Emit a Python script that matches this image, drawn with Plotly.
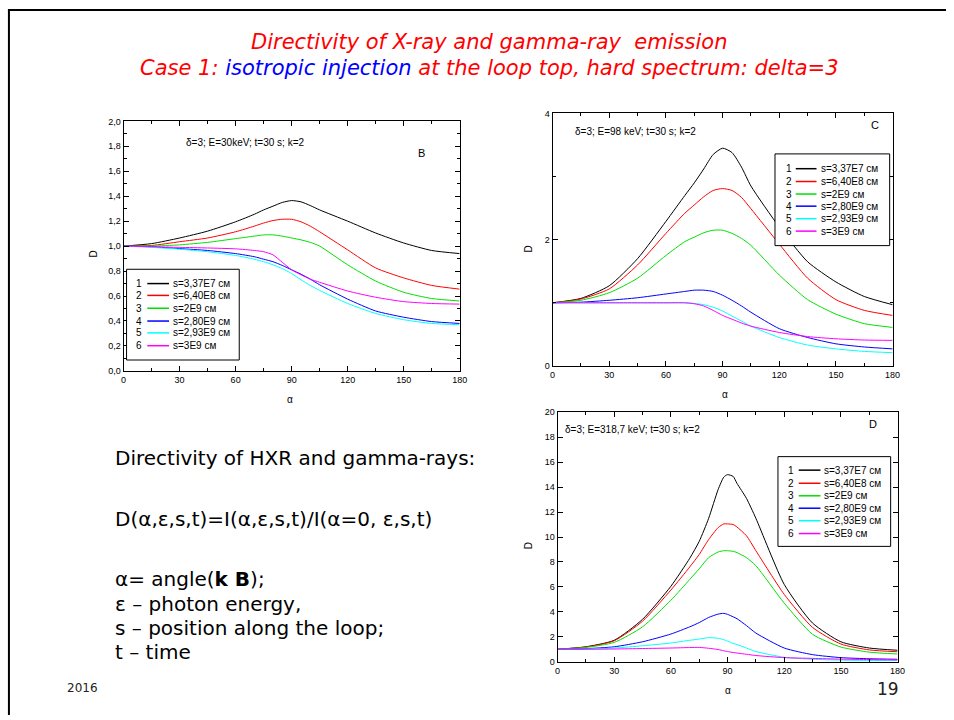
import plotly.graph_objects as go

W, H = 954, 720

# ---------------- data ----------------
alpha_BC = [0, 15, 30, 45, 60, 70, 75, 80, 85, 90, 95, 100, 105, 120, 135, 150, 165, 180]
alpha_D = [0, 15, 30, 45, 60, 70, 75, 80, 85, 88, 90, 93, 95, 100, 105, 120, 135, 150, 165, 180]

series_numbers = ["1", "2", "3", "4", "5", "6"]
series_labels = ["s=3,37E7 см", "s=6,40E8 см", "s=2E9 см", "s=2,80E9 см", "s=2,93E9 см", "s=3E9 см"]
series_colors = ["#000000", "#ff0000", "#00e000", "#0000ff", "#00ffff", "#ff00ff"]

# Panel B: E = 30 keV
B1 = [1.0, 1.02, 1.065, 1.12, 1.195, 1.255, 1.29, 1.32, 1.35, 1.365, 1.355, 1.325, 1.29, 1.2, 1.105, 1.025, 0.965, 0.94]
B2 = [1.0, 1.005, 1.035, 1.065, 1.115, 1.16, 1.185, 1.205, 1.215, 1.215, 1.195, 1.16, 1.115, 0.97, 0.825, 0.745, 0.685, 0.655]
B3 = [1.0, 1.0, 1.01, 1.03, 1.06, 1.08, 1.09, 1.09, 1.08, 1.065, 1.05, 1.03, 1.0, 0.85, 0.72, 0.63, 0.58, 0.56]
B4 = [1.0, 0.995, 0.98, 0.965, 0.94, 0.915, 0.895, 0.875, 0.845, 0.81, 0.775, 0.735, 0.69, 0.575, 0.48, 0.43, 0.395, 0.38]
B5 = [1.0, 0.99, 0.975, 0.955, 0.925, 0.895, 0.875, 0.85, 0.82, 0.78, 0.73, 0.685, 0.645, 0.54, 0.46, 0.41, 0.38, 0.37]
B6 = [1.0, 0.995, 0.99, 0.985, 0.978, 0.965, 0.955, 0.93, 0.87, 0.81, 0.77, 0.735, 0.71, 0.64, 0.59, 0.555, 0.54, 0.535]

# Panel C: E = 98 keV
C1 = [1.0, 1.07, 1.27, 1.7, 2.29, 2.7, 2.9, 3.12, 3.35, 3.45, 3.38, 3.15, 2.85, 2.2, 1.65, 1.33, 1.1, 0.97]
C2 = [1.0, 1.06, 1.22, 1.6, 2.1, 2.42, 2.55, 2.68, 2.78, 2.81, 2.78, 2.67, 2.49, 1.93, 1.39, 1.05, 0.88, 0.8]
C3 = [1.0, 1.04, 1.16, 1.39, 1.75, 1.97, 2.04, 2.11, 2.15, 2.15, 2.1, 2.02, 1.91, 1.44, 1.05, 0.82, 0.67, 0.61]
C4 = [1.0, 1.01, 1.04, 1.08, 1.14, 1.18, 1.2, 1.2, 1.18, 1.12, 1.04, 0.95, 0.85, 0.59, 0.45, 0.35, 0.3, 0.27]
C5 = [1.0, 1.0, 1.0, 1.0, 1.0, 1.0, 0.99, 0.97, 0.93, 0.87, 0.79, 0.71, 0.63, 0.45, 0.33, 0.27, 0.23, 0.21]
C6 = [1.0, 1.0, 1.0, 1.0, 1.0, 1.0, 0.985, 0.95, 0.88, 0.8, 0.74, 0.68, 0.63, 0.53, 0.465, 0.43, 0.41, 0.405]

# Panel D: E = 318.7 keV
D1 = [1.0, 1.2, 1.72, 3.4, 6.05, 8.3, 9.65, 11.5, 13.8, 14.8, 15.0, 14.85, 14.3, 13.1, 11.5, 6.2, 3.1, 1.6, 1.1, 0.92]
D2 = [1.0, 1.18, 1.68, 3.25, 5.75, 7.6, 8.6, 9.8, 10.75, 11.05, 11.05, 11.0, 10.8, 10.1, 8.9, 5.4, 2.75, 1.42, 0.95, 0.8]
D3 = [1.0, 1.15, 1.55, 2.8, 4.93, 6.6, 7.45, 8.35, 8.8, 8.9, 8.9, 8.85, 8.75, 8.35, 7.7, 4.7, 2.2, 1.18, 0.77, 0.62]
D4 = [1.0, 1.05, 1.2, 1.6, 2.22, 2.8, 3.14, 3.55, 3.82, 3.88, 3.8, 3.6, 3.45, 2.9, 2.3, 1.1, 0.57, 0.33, 0.24, 0.2]
D5 = [1.0, 1.02, 1.1, 1.28, 1.5, 1.72, 1.82, 1.93, 1.88, 1.77, 1.65, 1.47, 1.38, 1.1, 0.82, 0.36, 0.2, 0.13, 0.1, 0.1]
D6 = [1.0, 1.0, 1.02, 1.06, 1.1, 1.14, 1.15, 1.08, 0.98, 0.88, 0.82, 0.74, 0.7, 0.6, 0.5, 0.33, 0.27, 0.21, 0.18, 0.15]

panel_B = [B1, B2, B3, B4, B5, B6]
panel_C = [C1, C2, C3, C4, C5, C6]
panel_D = [D1, D2, D3, D4, D5, D6]

x_ticks = [0, 30, 60, 90, 120, 150, 180]

# ---------------- helpers ----------------
def px(x):
    return x / W

def py(y):
    return 1 - y / H

FONT = "Arial, Liberation Sans, sans-serif"
SLIDE_FONT = "DejaVu Sans, Verdana, sans-serif"

fig = go.Figure()

panels = [
    ("x", "y", alpha_BC, panel_B),
    ("x2", "y2", alpha_BC, panel_C),
    ("x3", "y3", alpha_D, panel_D),
]
for xa, ya, alpha, vals in panels:
    for i, v in enumerate(vals):
        fig.add_trace(go.Scatter(
            x=alpha, y=v, mode="lines", xaxis=xa, yaxis=ya,
            line=dict(color=series_colors[i], width=1, shape="spline", smoothing=0.6),
            showlegend=False, hoverinfo="skip"))

# panel boxes in pixel coordinates (x0, x1, ytop, ybottom)
box_B = (122, 462, 118, 371)
box_C = (556, 900, 110, 366)
box_D = (561, 905, 413, 666)

def xaxis_cfg(box):
    return dict(domain=[px(box[0]), px(box[1])], range=[0, 180], tickvals=x_ticks,
                ticks="inside", ticklen=5, tickcolor="black", showline=True, linecolor="black",
                linewidth=1, mirror="allticks", showgrid=False, zeroline=False,
                tickfont=dict(family=FONT, size=9, color="black"),
                minor=dict(tickvals=[15, 45, 75, 105, 135, 165], ticks="inside", ticklen=3,
                           tickcolor="black", showgrid=False))

def yaxis_cfg(box, rng, tickvals, minorvals, fmt):
    return dict(domain=[py(box[3]), py(box[2])], range=rng, tickvals=tickvals, tickformat=fmt,
                ticks="inside", ticklen=5, tickcolor="black", showline=True, linecolor="black",
                linewidth=1, mirror="allticks", showgrid=False, zeroline=False,
                tickfont=dict(family=FONT, size=9, color="black"),
                minor=dict(tickvals=minorvals, ticks="inside", ticklen=3, tickcolor="black",
                           showgrid=False))

fig.update_layout(
    xaxis=dict(xaxis_cfg(box_B), anchor="y"),
    yaxis=dict(yaxis_cfg(box_B, [0, 2], [0, 0.2, 0.4, 0.6, 0.8, 1.0, 1.2, 1.4, 1.6, 1.8, 2.0],
                         [0.1, 0.3, 0.5, 0.7, 0.9, 1.1, 1.3, 1.5, 1.7, 1.9], ".1f"), anchor="x"),
    xaxis2=dict(xaxis_cfg(box_C), anchor="y2"),
    yaxis2=dict(yaxis_cfg(box_C, [0, 4], [0, 2, 4], [1, 3], "d"), anchor="x2"),
    xaxis3=dict(xaxis_cfg(box_D), anchor="y3"),
    yaxis3=dict(yaxis_cfg(box_D, [0, 20], list(range(0, 21, 2)), [], "d"), anchor="x3"),
)

annotations = []
shapes = []

def text(x, y, s, size, xanchor="left", color="black", family=FONT, angle=0):
    annotations.append(dict(x=px(x), y=py(y), xref="paper", yref="paper", text=s,
                            showarrow=False, xanchor=xanchor, yanchor="middle",
                            textangle=angle, font=dict(family=family, size=size, color=color)))

# custom legends
def legend(box, rows, num_x, lx0, lx1, tx, size):
    shapes.append(dict(type="rect", xref="paper", yref="paper",
                       x0=px(box[0]), x1=px(box[1]), y0=py(box[3]), y1=py(box[2]),
                       line=dict(color="black", width=1), fillcolor="white", layer="above"))
    for i, ry in enumerate(rows):
        text(num_x, ry, series_numbers[i], size, xanchor="right")
        shapes.append(dict(type="line", xref="paper", yref="paper",
                           x0=px(lx0), x1=px(lx1), y0=py(ry), y1=py(ry),
                           line=dict(color=series_colors[i], width=1.5), layer="above"))
        text(tx, ry, series_labels[i], size)

legend((125, 239, 268, 360), [282.5, 294.5, 307.5, 320.5, 332.5, 345.5], 143, 146, 168, 170, 10)
legend((781, 897, 151, 244), [166, 179, 191.7, 204, 216.7, 229.3], 800, 802, 823, 826, 10)
legend((784, 898, 458, 549), [471.7, 485, 497.7, 510.3, 523, 536], 802, 805, 827, 829, 10)

# panel texts
text(183, 139, "δ=3; E=30keV; t=30 s; k=2", 10)
text(423, 150, "B", 11, xanchor="center")
text(577, 128, "δ=3; E=98 keV; t=30 s; k=2", 10)
text(882, 122, "C", 11, xanchor="center")
text(567, 430, "δ=3; E=318,7 keV; t=30 s; k=2", 10)
text(880, 425, "D", 11, xanchor="center")

# axis titles
text(92, 252, "D", 10, xanchor="center", angle=-90)
text(290, 400, "α", 10, xanchor="center")
text(532, 247, "D", 10, xanchor="center", angle=-90)
text(730, 395, "α", 10, xanchor="center")
text(532, 548, "D", 10, xanchor="center", angle=-90)
text(733, 695, "α", 10, xanchor="center")

# slide title
text(492, 38, "<i>Directivity of X-ray and gamma-ray &nbsp;emission</i>", 21, xanchor="center",
     color="#ff0000", family=SLIDE_FONT)
text(492, 64, "<i>Case 1: <span style='color:#0000ff'>isotropic injection</span> at the loop top, hard spectrum: delta=3</i>",
     21, xanchor="center", color="#ff0000", family=SLIDE_FONT)

# left text block
text(111, 459, "Directivity of HXR and gamma-rays:", 20, family=SLIDE_FONT)
text(111, 521, "D(α,ε,s,t)=I(α,ε,s,t)/I(α=0, ε,s,t)", 20, family=SLIDE_FONT)
text(111, 582, "α= angle(<b>k B</b>);", 20, family=SLIDE_FONT)
text(111, 607, "ε – photon energy,", 20, family=SLIDE_FONT)
text(111, 631.5, "s – position along the loop;", 20, family=SLIDE_FONT)
text(111, 656, "t – time", 20, family=SLIDE_FONT)

# footer
text(63, 693, "2016", 12, family=SLIDE_FONT, color="#222222")
text(908, 694, "19", 17, xanchor="right", family=SLIDE_FONT, color="#222222")

# slide frame lines (left and top)
shapes.append(dict(type="line", xref="paper", yref="paper", x0=px(6), x1=px(6), y0=0, y1=py(5),
                   line=dict(color="black", width=2)))
shapes.append(dict(type="line", xref="paper", yref="paper", x0=px(5), x1=1, y0=py(5), y1=py(5),
                   line=dict(color="black", width=2)))

fig.update_layout(
    width=W, height=H, autosize=False,
    margin=dict(l=0, r=0, t=0, b=0, pad=0),
    paper_bgcolor="white", plot_bgcolor="white",
    separators=",.",
    annotations=annotations, shapes=shapes,
    font=dict(family=FONT, color="black"),
)

post = ("var s=document.documentElement.style;s.margin='0';s.padding='0';s.overflow='hidden';"
        "var b=document.body.style;b.margin='0';b.padding='0';b.overflow='hidden';")
fig.write_html("out.html", config={"displayModeBar": False}, post_script=post)
